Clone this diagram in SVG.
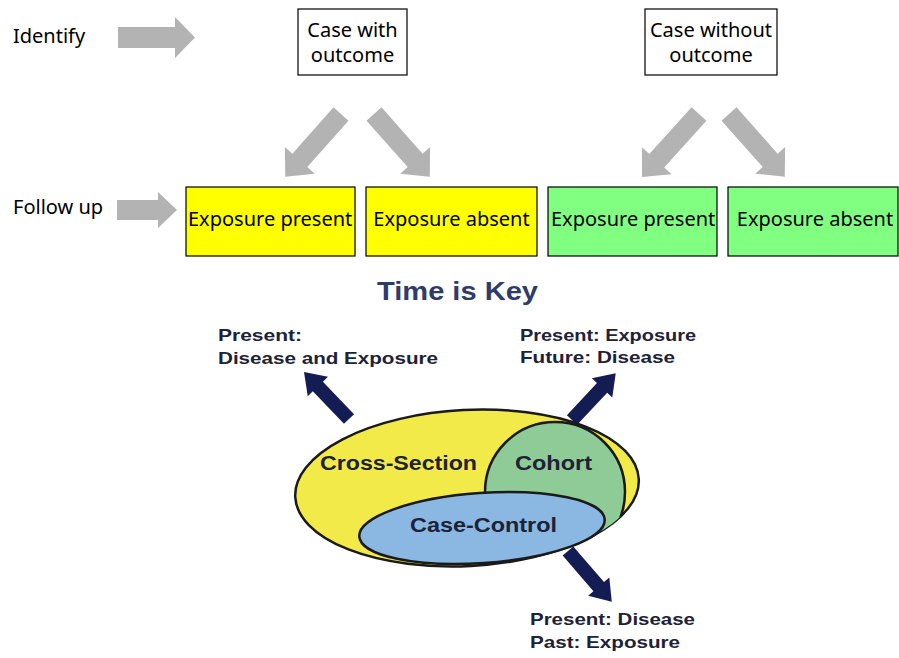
<svg xmlns="http://www.w3.org/2000/svg" width="899" height="658" viewBox="0 0 899 658">
<defs>
<style>
.lbl{font-family:"Noto Sans","Open Sans","Liberation Sans",sans-serif;font-size:20px;fill:#000}
.box{stroke:#000;stroke-width:1.2}
.garrow{fill:#b3b3b3}
.narrow{fill:#141c54}
.bold{font-family:"Liberation Sans",Arial,sans-serif;font-weight:bold;fill:#1d2238}
.ell{stroke:#1a1a1a;stroke-width:2.5}
</style>
<clipPath id="yclip"><ellipse cx="467" cy="488" rx="172" ry="78" transform="rotate(-3 467 488)"/></clipPath>
</defs>
<rect width="899" height="658" fill="#fff"/>

<g id="row-labels">
<text class="lbl" x="13" y="43">Identify</text>
<text class="lbl" x="13" y="214">Follow up</text>
</g>

<g id="connectors">
<polygon class="garrow" points="118,27 175,27 175,17 195,37.5 175,58 175,48 118,48"/>
<polygon class="garrow" points="117,200 158,200 158,192 177,210 158,228 158,220 117,220"/>
<polygon class="garrow" transform="translate(341,114) rotate(131.6)" points="0,-10 62,-10 62,-20 84,0 62,20 62,10 0,10"/>
<polygon class="garrow" transform="translate(374,114) rotate(48.4)" points="0,-10 62,-10 62,-20 84,0 62,20 62,10 0,10"/>
<polygon class="garrow" transform="translate(699,114) rotate(132.1)" points="0,-10 63,-10 63,-20 85,0 63,20 63,10 0,10"/>
<polygon class="garrow" transform="translate(729,114) rotate(48.4)" points="0,-10 62,-10 62,-20 84,0 62,20 62,10 0,10"/>
<polygon class="narrow" transform="translate(349,419) rotate(-133.8)" points="0,-7 45,-7 45,-14 65,0 45,14 45,7 0,7"/>
<polygon class="narrow" transform="translate(572,420) rotate(-46.9)" points="0,-7 44,-7 44,-14 64,0 44,14 44,7 0,7"/>
<polygon class="narrow" transform="translate(568,551) rotate(49.2)" points="0,-7 47,-7 47,-14 67,0 47,14 47,7 0,7"/>
</g>

<g id="case-with">
<rect class="box" x="298" y="9" width="109" height="66" fill="#fff"/>
<text class="lbl" x="352.5" y="37" text-anchor="middle">Case with</text>
<text class="lbl" x="352.5" y="62" text-anchor="middle">outcome</text>
</g>
<g id="case-without">
<rect class="box" x="645" y="9" width="132" height="66" fill="#fff"/>
<text class="lbl" x="711" y="37" text-anchor="middle">Case without</text>
<text class="lbl" x="711" y="62" text-anchor="middle">outcome</text>
</g>

<g id="yellow-present">
<rect class="box" x="186" y="187" width="169" height="69" fill="#ffff00"/>
<text class="lbl" x="188" y="226">Exposure present</text>
</g>
<g id="yellow-absent">
<rect class="box" x="366" y="187" width="171" height="69" fill="#ffff00"/>
<text class="lbl" x="451.5" y="226" text-anchor="middle">Exposure absent</text>
</g>
<g id="green-present">
<rect class="box" x="548" y="187" width="169" height="69" fill="#80ff80"/>
<text class="lbl" x="551" y="226">Exposure present</text>
</g>
<g id="green-absent">
<rect class="box" x="728" y="187" width="170" height="69" fill="#80ff80"/>
<text class="lbl" x="815" y="226" text-anchor="middle">Exposure absent</text>
</g>

<g id="title">
<text class="bold" x="377" y="300" font-size="25" style="fill:#2e3b6b" textLength="161" lengthAdjust="spacingAndGlyphs">Time is Key</text>
</g>

<g id="cross-section">
<ellipse class="ell" cx="467" cy="488" rx="172" ry="78" transform="rotate(-3 467 488)" fill="#f2ea48"/>
<text class="bold" x="320" y="470" font-size="20" textLength="157" lengthAdjust="spacingAndGlyphs">Cross-Section</text>
</g>
<g id="cohort">
<circle class="ell" cx="555" cy="492" r="70" fill="#8fcb97" clip-path="url(#yclip)"/>
<text class="bold" x="515" y="470" font-size="20" textLength="77" lengthAdjust="spacingAndGlyphs">Cohort</text>
</g>
<g id="case-control">
<ellipse class="ell" cx="482" cy="528" rx="123" ry="35" transform="rotate(-4 482 528)" fill="#8ab8e2"/>
<text class="bold" x="410" y="532" font-size="20" textLength="147" lengthAdjust="spacingAndGlyphs">Case-Control</text>
</g>

<g id="label-cross">
<text class="bold" x="218" y="341" font-size="17" textLength="84" lengthAdjust="spacingAndGlyphs">Present:</text>
<text class="bold" x="218" y="364" font-size="17" textLength="220" lengthAdjust="spacingAndGlyphs">Disease and Exposure</text>
</g>
<g id="label-cohort">
<text class="bold" x="520" y="341" font-size="17" textLength="176" lengthAdjust="spacingAndGlyphs">Present: Exposure</text>
<text class="bold" x="520" y="363" font-size="17" textLength="155" lengthAdjust="spacingAndGlyphs">Future: Disease</text>
</g>
<g id="label-casecontrol">
<text class="bold" x="530" y="625" font-size="17" textLength="165" lengthAdjust="spacingAndGlyphs">Present: Disease</text>
<text class="bold" x="530" y="648" font-size="17" textLength="150" lengthAdjust="spacingAndGlyphs">Past: Exposure</text>
</g>
</svg>
